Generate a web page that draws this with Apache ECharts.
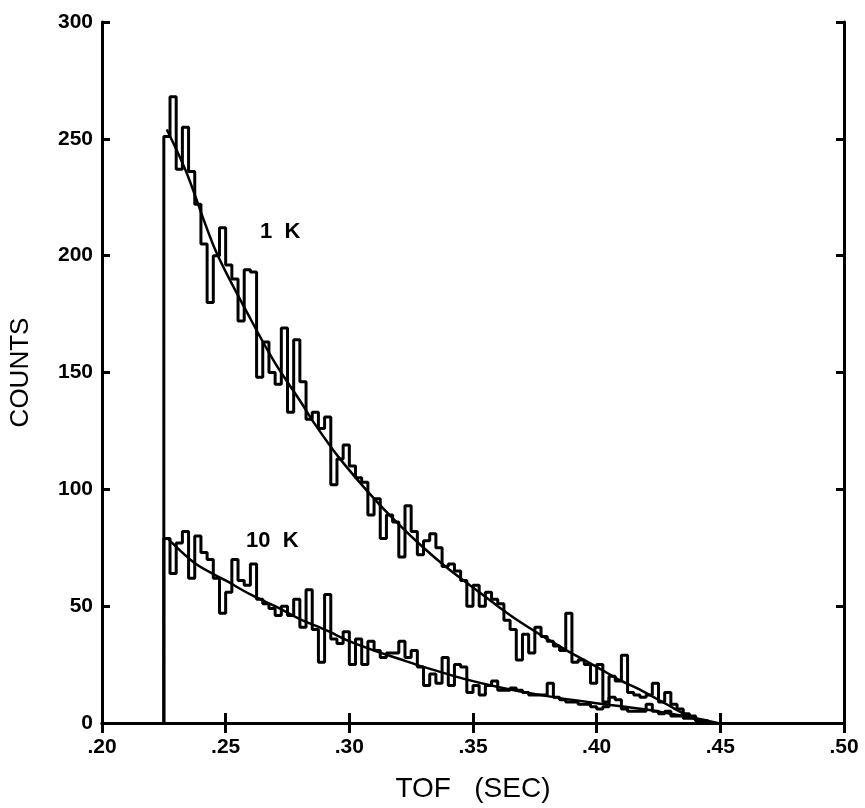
<!DOCTYPE html>
<html>
<head>
<meta charset="utf-8">
<script src="https://cdn.jsdelivr.net/npm/echarts@6/dist/echarts.min.js"></script>
<style>
  html, body { margin: 0; padding: 0; background: #fff; }
  #tof { width: 865px; height: 808px; }
</style>
</head>
<body>
<div id="tof"></div>
<script>
// histogram bins: start time and bin width (sec)
var binStart = 0.2250
var binWidth = 0.0025

// counts per bin, 1 K run
var counts1K = [251, 268, 237, 255, 236, 222, 205, 180, 200, 212,
	196, 190, 172, 194, 193, 148, 163, 150, 145, 169,
	133, 164, 146, 130, 133, 126, 131, 102, 113, 119,
	110, 105, 103, 89, 96, 79, 89, 86, 71, 93,
	82, 72, 78, 81, 75, 67, 68, 65, 61, 50,
	59, 50, 56, 53, 51, 44, 40, 27, 38, 30,
	41, 37, 35, 33, 31, 47, 26, 27, 25, 17,
	25, 9, 20, 18, 29, 13, 12, 11, 12, 17,
	9, 13, 8, 6, 4, 3, 1]

// counts per bin, 10 K run
var counts10K = [79, 64, 77, 82, 62, 80, 73, 70, 62, 47,
	56, 70, 61, 59, 68, 53, 51, 49, 46, 50,
	46, 53, 41, 57, 40, 26, 55, 36, 34, 39,
	25, 36, 25, 35, 31, 28, 30, 30, 35, 28,
	31, 24, 16, 21, 17, 28, 16, 25, 24, 13,
	16, 12, 16, 18, 14, 14, 15, 14, 13, 12,
	12, 12, 17, 11, 10, 9, 9, 8, 8, 7,
	6, 7, 11, 10, 6, 5, 5, 5, 8, 5,
	4, 5, 3, 3, 2, 2, 1, 1]

// fitted curves
var fit1KX = [0.2262, 0.234, 0.246, 0.26, 0.27, 0.28, 0.286, 0.2955, 0.31, 0.32, 0.33, 0.34,
	0.35, 0.36, 0.368, 0.38, 0.388, 0.40, 0.41, 0.418, 0.43, 0.437, 0.443]
var fit1KY = [254, 236, 202, 173, 154, 138, 128, 114, 96, 85, 75, 66,
	58, 50, 44, 36, 31, 24, 18, 14, 7, 3, 0]
var fit10KX = [0.2265, 0.238, 0.25, 0.26, 0.27, 0.28, 0.291, 0.30, 0.31, 0.32, 0.33,
	0.346, 0.362, 0.38, 0.40, 0.4185, 0.43, 0.44, 0.449]
var fit10KY = [79, 68, 61, 55, 50, 44.5, 39.5, 35, 31, 27.5, 24,
	19, 15, 11.5, 8.5, 6, 4, 2, 0]

var xTicks = [0.20, 0.25, 0.30, 0.35, 0.40, 0.45, 0.50]
var yTicks = [0, 50, 100, 150, 200, 250, 300]

function histPoints(start, width, counts){
	var pts = [[start, 0]]
	for(var i = 0; i < counts.length; i++){
		var x0 = start + i * width
		pts.push([x0, counts[i]])
		pts.push([x0 + width, counts[i]])
	}
	pts.push([start + counts.length * width, 0])
	return pts
}

function pairs(xs, ys){
	var out = []
	for(var i = 0; i < xs.length; i++){
		out.push([xs[i], ys[i]])
	}
	return out
}

var chart = echarts.init(document.getElementById('tof'))

var labelFont = {
	color: '#000',
	fontFamily: 'Liberation Sans, Arial, sans-serif',
	fontWeight: 'bold',
	fontSize: 21
}
var lineStyle = { color: '#000', width: 3 }

var option = {
	animation: false,
	backgroundColor: '#fff',
	grid: { left: 101, right: 21, top: 22, bottom: 79 },
	xAxis: [
		{
			type: 'value',
			min: xTicks[0],
			max: xTicks[xTicks.length - 1],
			interval: 0.05,
			position: 'bottom',
			axisLine: { lineStyle: lineStyle },
			axisTick: { inside: true, length: 10, lineStyle: lineStyle },
			splitLine: { show: false },
			axisLabel: Object.assign({
				margin: 14,
				formatter: function(v){ return v.toFixed(2).replace(/^0/, '') }
			}, labelFont),
			name: 'TOF   (SEC)',
			nameLocation: 'middle',
			nameGap: 52,
			nameTextStyle: {
				color: '#000',
				fontFamily: 'Liberation Sans, Arial, sans-serif',
				fontSize: 28
			}
		},
		{
			type: 'value',
			min: xTicks[0],
			max: xTicks[xTicks.length - 1],
			interval: 0.05,
			position: 'top',
			axisLine: { lineStyle: lineStyle },
			axisTick: { inside: true, length: 10, lineStyle: lineStyle },
			axisLabel: { show: false },
			splitLine: { show: false }
		}
	],
	yAxis: [
		{
			type: 'value',
			min: yTicks[0],
			max: yTicks[yTicks.length - 1],
			interval: 50,
			position: 'left',
			axisLine: { show: true, lineStyle: lineStyle },
			axisTick: { show: true, inside: true, length: 8, lineStyle: lineStyle },
			splitLine: { show: false },
			axisLabel: Object.assign({ margin: 9 }, labelFont),
			name: 'COUNTS',
			nameLocation: 'middle',
			nameGap: 68,
			nameTextStyle: {
				color: '#000',
				fontFamily: 'Liberation Sans, Arial, sans-serif',
				fontSize: 26
			}
		},
		{
			type: 'value',
			min: yTicks[0],
			max: yTicks[yTicks.length - 1],
			interval: 50,
			position: 'right',
			axisLine: { show: true, lineStyle: lineStyle },
			axisTick: { show: true, inside: true, length: 8, lineStyle: lineStyle },
			axisLabel: { show: false },
			splitLine: { show: false }
		}
	],
	series: [
		{
			name: '1 K',
			type: 'line',
			data: histPoints(binStart, binWidth, counts1K),
			showSymbol: false,
			lineStyle: { color: '#000', width: 3 }
		},
		{
			name: '10 K',
			type: 'line',
			data: histPoints(binStart, binWidth, counts10K),
			showSymbol: false,
			lineStyle: { color: '#000', width: 3 }
		},
		{
			name: 'fit 1 K',
			type: 'line',
			data: pairs(fit1KX, fit1KY),
			smooth: 0.3,
			showSymbol: false,
			lineStyle: { color: '#000', width: 2.5 }
		},
		{
			name: 'fit 10 K',
			type: 'line',
			data: pairs(fit10KX, fit10KY),
			smooth: 0.3,
			showSymbol: false,
			lineStyle: { color: '#000', width: 2.5 }
		}
	],
	graphic: [
		{
			type: 'text', left: 260, top: 221,
			style: { text: '1  K', fill: '#000', font: 'bold 22px "Liberation Sans", Arial, sans-serif' }
		},
		{
			type: 'text', left: 246, top: 530,
			style: { text: '10  K', fill: '#000', font: 'bold 22px "Liberation Sans", Arial, sans-serif' }
		}
	]
}

chart.setOption(option)
</script>
</body>
</html>
